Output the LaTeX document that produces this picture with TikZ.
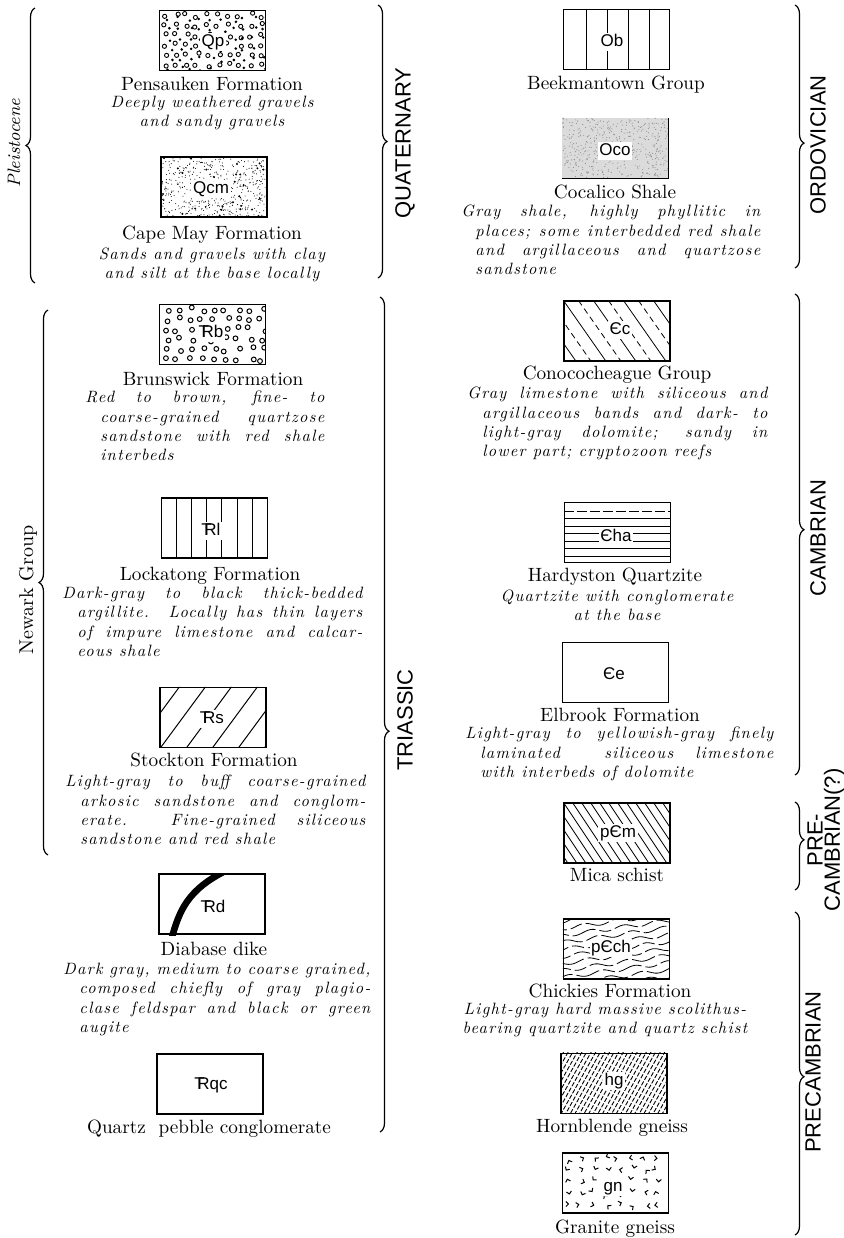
\documentclass[tikz,border=0pt]{standalone}
\usepackage{fontspec}
\setsansfont{Liberation Sans}
\newfontfamily\descfamily{lmroman10}[Extension=.otf, UprightFont=*-regular, ItalicFont=*-italic, LetterSpace=8]
\usetikzlibrary{calc,decorations.pathreplacing}

\newcommand{\trsym}{\hspace{0.17em}\rlap{\hspace{-0.18em}T}R}
\newcommand{\dscfont}{\descfamily\itshape\fontsize{8.2}{9.6}\selectfont\tolerance=10000\pretolerance=10000}

\begin{document}
\begin{tikzpicture}[x=0.5pt, y=-0.5pt]
\tikzset{
  mapbox/.style={draw, line width=0.6pt, minimum width=53pt, minimum height=30pt, inner sep=0pt},
  sym/.style={font=\sffamily\fontsize{8.5}{10}\selectfont, fill=white, inner sep=0.8pt, text height=6pt, text depth=1.6pt},
  ttl/.style={font=\fontsize{9.6}{11}\selectfont, inner sep=0pt, text height=7pt, text depth=2pt},
  desc/.style={font=\dscfont, align=justify, anchor=north west, inner sep=0pt},
  cdesc/.style={font=\dscfont, align=center, inner sep=0pt},
  period/.style={font=\sffamily\fontsize{11}{8.6}\selectfont, rotate=90, align=center, inner sep=0pt},
  brc/.style={decorate, decoration={brace, amplitude=4.5pt, aspect=#1}, line width=0.6pt},
  brc/.default=0.5,
  hatch/.style={line width=0.4pt}
}
\fill[white] (0,0) rectangle (843,1238);
\useasboundingbox (0,0) rectangle (843,1238);

% left column: Quaternary
\node[mapbox] (qp) at (212.5,40.5) {};
\begin{scope}[shift={(qp.north west)}]
  \clip (0,0) rectangle (106,60);
  \pgfmathsetseed{11}
  \foreach \cc in {0,...,9} \foreach \rr in {0,...,5}
    \draw[line width=0.45pt] (\cc*10.6+4+rnd*5, \rr*10+3+rnd*5) circle (1.05pt);
  \foreach \cc in {0,...,9} \foreach \rr in {0,...,5}
    \fill (\cc*10.6+8+rnd*6, \rr*10+7+rnd*5) circle (0.7pt);
\end{scope}
\node[sym] (qp-sym) at (213,42) {Qp};
\node[ttl] (qp-ttl) at (212,85) {Pensauken Formation};
\node[cdesc] (qp-desc) at (212,113) {Deeply weathered gravels\\and sandy gravels};

\node[mapbox] (qcm) at (214,187) {};
\begin{scope}[shift={(qcm.north west)}]
  \clip (1,1) rectangle (105,59);
  \pgfmathsetseed{3}
  \foreach \i in {1,...,520} \fill (rnd*106,rnd*61) circle (0.26pt);
  \foreach \i in {1,...,35} \fill (rnd*106,rnd*61) circle (0.55pt);
\end{scope}
\node[sym] (qcm-sym) at (211,189) {Qcm};
\node[ttl] (qcm-ttl) at (212,234) {Cape May Formation};
\node[cdesc] (qcm-desc) at (212,265) {Sands and gravels with clay\\and silt at the base locally};

% left column: Triassic
\node[mapbox] (trb) at (212.5,334.5) {};
\begin{scope}[shift={(trb.north west)}]
  \clip (0,0) rectangle (106,60);
  \pgfmathsetseed{21}
  \foreach \cc in {0,...,8} \foreach \rr in {0,...,5}
    \draw[line width=0.5pt] (\cc*12+4+rnd*7, \rr*10+3+rnd*5) circle (1.2pt);
\end{scope}
\node[sym] (trb-sym) at (211,333) {\trsym b};
\node[ttl] (trb-ttl) at (213,380) {Brunswick Formation};
\node[desc, text width=119.5pt] (trb-desc) at (85,391) {\hangindent=7.5pt\hangafter=1 Red to brown, fine- to\linebreak coarse-grained quartzose\linebreak sandstone with red shale\linebreak interbeds\par};

\node[mapbox] (trl) at (214.5,528) {};
\begin{scope}[shift={(trl.north west)}]
  \foreach \k in {1,...,6} \draw[hatch] (\k*15.2,0) -- (\k*15.2,62);
\end{scope}
\node[sym] (trl-sym) at (211,531) {\trsym l};
\node[ttl] (trl-ttl) at (210,575) {Lockatong Formation};
\node[desc, text width=150pt] (trl-desc) at (62,587) {\hangindent=7.5pt\hangafter=1 Dark-gray to black thick-bedded\linebreak argillite.\ \ Locally has thin layers\linebreak of impure limestone and calcar-\linebreak eous shale\par};

\node[mapbox] (trs) at (213,717.5) {};
\begin{scope}[shift={(trs.north west)}]
  \clip (0,0) rectangle (106,60);
  \foreach \k in {0,...,6} \draw[line width=0.5pt] (-25+\k*26,61) -- ++(45,-61);
\end{scope}
\node[sym] (trs-sym) at (212,719) {\trsym s};
\node[ttl] (trs-ttl) at (214,761) {Stockton Formation};
\node[desc, text width=150pt] (trs-desc) at (65,775) {\hangindent=7.5pt\hangafter=1 Light-gray to buff coarse-grained\linebreak arkosic sandstone and conglom-\linebreak erate.\ \ Fine-grained siliceous\linebreak sandstone and red shale\par};

\node[mapbox] (trd) at (212,904) {};
\begin{scope}[shift={(trd.north west)}]
  \clip (0,0) rectangle (108,62);
  \draw[line width=3.3pt] (13,66) .. controls (21,36) and (30,16) .. (68,-3);
\end{scope}
\node[sym, fill=none] (trd-sym) at (213,908) {\trsym d};
\node[ttl] (trd-ttl) at (214,950) {Diabase dike};
\node[desc, text width=153.5pt] (trd-desc) at (63,963) {\hangindent=8pt\hangafter=1 Dark gray, medium to coarse grained,\linebreak composed chiefly of gray plagio-\linebreak clase feldspar and black or green\linebreak augite\par};

\node[mapbox] (trqc) at (210,1084) {};
\node[sym] (trqc-sym) at (211,1085) {\trsym qc};
\node[ttl] (trqc-ttl) at (209,1128) {Quartz\ \ pebble conglomerate};

% right column: Ordovician
\node[mapbox] (ob) at (616.5,39.5) {};
\begin{scope}[shift={(ob.north west)}]
  \foreach \xx in {23,44,65,86} \draw[hatch] (\xx,0) -- (\xx,61);
\end{scope}
\node[sym] (ob-sym) at (612,42) {Ob};
\node[ttl] (ob-ttl) at (616,84) {Beekmantown Group};

\node[mapbox] (oco) at (615.5,148.5) {};
\begin{scope}[shift={(oco.north west)}]
  \clip (0,0) rectangle (106,60);
  \fill[black!14] (0,0) rectangle (106,60);
  \pgfmathsetseed{8}
  \foreach \i in {1,...,450} \fill[black!45] (rnd*106,rnd*60) circle (0.28pt);
\end{scope}
\node[sym] (oco-sym) at (615,151) {Oco};
\node[ttl] (oco-ttl) at (615,193) {Cocalico Shale};
\node[desc, text width=149.5pt] (oco-desc) at (461,205) {\hangindent=7pt\hangafter=1 Gray shale, highly phyllitic in\linebreak places; some interbedded red shale\linebreak and argillaceous and quartzose\linebreak sandstone\par};

% right column: Cambrian
\node[mapbox] (cc) at (617,331) {};
\begin{scope}[shift={(cc.north west)}]
  \clip (0,0) rectangle (106,60);
  \foreach \k in {-3,...,4} \draw[hatch] (\k*30,0) -- ++(42,60);
  \foreach \k in {-3,...,4} \draw[hatch, dash pattern=on 3pt off 2pt] (\k*30+15,0) -- ++(42,60);
\end{scope}
\node[sym] (cc-sym) at (620,330) {Єc};
\node[ttl] (cc-ttl) at (617,374) {Conococheague Group};
\node[desc, text width=150pt] (cc-desc) at (467,387) {\hangindent=7.5pt\hangafter=1 Gray limestone with siliceous and\linebreak argillaceous bands and dark- to\linebreak light-gray dolomite; sandy in\linebreak lower part; cryptozoon reefs\par};

\node[mapbox] (cha) at (617.5,532.5) {};
\begin{scope}[shift={(cha.north west)}]
  \draw[hatch, dash pattern=on 5pt off 1.5pt] (0,9) -- (107,9);
  \foreach \yy in {16.5,24,...,55} \draw[hatch] (0,\yy) -- (107,\yy);
\end{scope}
\node[sym] (cha-sym) at (616,537) {Єha};
\node[ttl] (cha-ttl) at (615,576) {Hardyston Quartzite};
\node[cdesc] (cha-desc) at (617,605) {Quartzite with conglomerate\\at the base};

\node[mapbox] (ce) at (615.5,672.5) {};
\node[sym] (ce-sym) at (614,675) {Єe};
\node[ttl] (ce-ttl) at (620,716) {Elbrook Formation};
\node[desc, text width=154pt] (ce-desc) at (465,727) {\hangindent=7.5pt\hangafter=1 Light-gray to yellowish-gray finely\linebreak laminated\ \ siliceous limestone\linebreak with interbeds of dolomite\par};

% right column: Precambrian
\node[mapbox] (pcm) at (617,833) {};
\begin{scope}[shift={(pcm.north west)}]
  \clip (0,0) rectangle (106,60);
  \foreach \k in {-6,...,12} \draw[hatch] (\k*9,0) -- ++(40,60);
\end{scope}
\node[sym] (pcm-sym) at (618,833) {pЄm};
\node[ttl] (pcm-ttl) at (617,876) {Mica schist};

\node[mapbox] (pcch) at (616.5,949) {};
\begin{scope}[shift={(pcch.north west)}]
  \clip (0,0) rectangle (107,60);
  \foreach \yy in {-4,3,...,74}
    \draw[hatch, dash pattern=on 12pt off 2pt on 6pt off 2pt, dash phase=\yy pt]
      plot[domain=0:110, samples=45, smooth] (\x, {\yy - 0.14*\x + 2*sin(\x*11 + \yy*40)});
\end{scope}
\node[sym] (pcch-sym) at (611,948) {pЄch};
\node[ttl] (pcch-ttl) at (610,992) {Chickies Formation};
\node[cdesc] (pcch-desc) at (605,1020) {Light-gray hard massive scolithus-\\bearing quartzite and quartz schist};

\node[mapbox] (hg) at (614,1083.5) {};
\begin{scope}[shift={(hg.north west)}]
  \clip (0,0) rectangle (106,60);
  \foreach \k in {-14,...,26}
    \draw[line width=0.45pt, dash pattern=on 2.2pt off 0.9pt, dash phase=\k pt] (\k*4.6,62) -- ++(36,-64);
\end{scope}
\node[sym] (hg-sym) at (614,1081) {hg};
\node[ttl] (hg-ttl) at (612,1127) {Hornblende gneiss};

\node[mapbox] (gn) at (615.5,1183) {};
\begin{scope}[shift={(gn.north west)}]
  \pgfmathsetseed{5}
  \foreach \cc in {0,...,7} \foreach \rr in {0,...,4} {
    \pgfmathsetmacro\px{\cc*12.6+7+rnd*6-3}
    \pgfmathsetmacro\py{\rr*11.5+6+rnd*5-2.5}
    \pgfmathsetmacro\ang{rnd*360}
    \draw[line width=0.5pt] (\px,\py) ++(\ang:3.6) -- (\px,\py) -- ++(\ang+90:3.6);
  }
\end{scope}
\node[sym] (gn-sym) at (613,1187) {gn};
\node[ttl] (gn-ttl) at (615,1228) {Granite gneiss};

% braces and period names
\coordinate (ple-a) at (35,283);   \coordinate (ple-b) at (35,8);
\coordinate (qua-a) at (378,5);    \coordinate (qua-b) at (378,278);
\coordinate (new-a) at (48,855);   \coordinate (new-b) at (48,310);
\coordinate (tri-a) at (380,297);  \coordinate (tri-b) at (380,1132);
\coordinate (ord-a) at (795,5);    \coordinate (ord-b) at (795,268);
\coordinate (cam-a) at (795,294);  \coordinate (cam-b) at (795,775);
\coordinate (pre-a) at (795,802);  \coordinate (pre-b) at (795,890);
\coordinate (prc-a) at (795,912);  \coordinate (prc-b) at (795,1235);
\draw[brc] (ple-a) -- (ple-b);
\draw[brc] (qua-a) -- (qua-b);
\draw[brc] (new-a) -- (new-b);
\draw[brc=0.52] (tri-a) -- (tri-b);
\draw[brc=0.525] (ord-a) -- (ord-b);
\draw[brc=0.49] (cam-a) -- (cam-b);
\draw[brc=0.43] (pre-a) -- (pre-b);
\draw[brc=0.51] (prc-a) -- (prc-b);

\node[font=\itshape\fontsize{9}{10}\selectfont, rotate=90, inner sep=0pt] (ple) at (14,143) {Pleistocene};
\node[font=\fontsize{10}{11}\selectfont, rotate=90, inner sep=0pt] (new) at (28,590) {Newark Group};
\node[period] (qua) at (405,143) {QUATERNARY};
\node[period] (tri) at (405,720) {TRIASSIC};
\node[period] (ord) at (818,145) {ORDOVICIAN};
\node[period] (cam) at (818,538) {CAMBRIAN};
\node[period] (pre) at (826,840) {PRE-\\CAMBRIAN(?)};
\node[period] (prc) at (813,1072) {PRECAMBRIAN};
\end{tikzpicture}
\end{document}
